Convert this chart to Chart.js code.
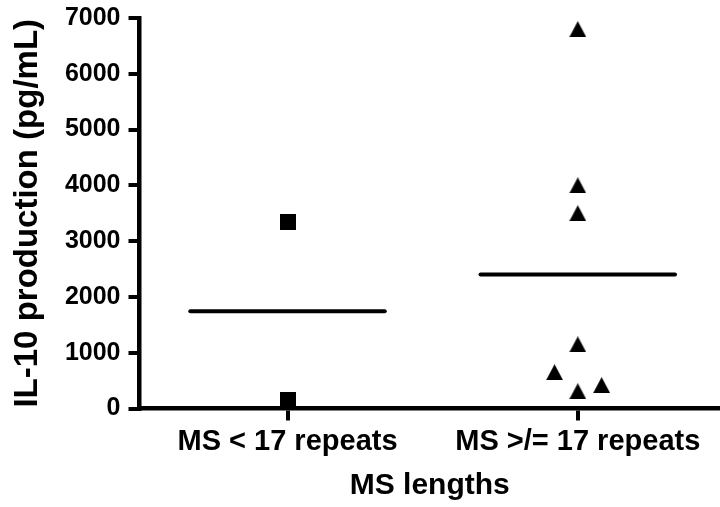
<!DOCTYPE html>
<html>
<head>
<meta charset="utf-8">
<script src="https://cdn.jsdelivr.net/npm/chart.js@4/dist/chart.umd.min.js"></script>
<style>
  html, body { margin: 0; padding: 0; background: #fff; }
</style>
</head>
<body>
<canvas id="myChart" width="720" height="507"></canvas>
<script>
// IL-10 per MS length group, one value per donor
var categories = ["MS < 17 repeats", "MS >/= 17 repeats"];
var shortValues = [3340, 150];
var longValues = [6800, 4000, 3500, 1150, 650, 310, 420];
// small sideways shift so overlapping points stay visible
var longJitter = [0, 0, 0, 0, -0.08, 0, 0.082];
var yTicks = [0, 1000, 2000, 3000, 4000, 5000, 6000, 7000];

var FONT = "'Liberation Sans', Arial, Helvetica, sans-serif";

function mean(arr) {
  var s = 0;
  for (var i = 0; i < arr.length; i++) s += arr[i];
  return s / arr.length;
}

// filled marker drawn once, reused as pointStyle
function marker(shape) {
  var c = document.createElement("canvas");
  c.width = shape == "tri" ? 17 : 16;
  c.height = 16;
  var g = c.getContext("2d");
  g.fillStyle = "#000";
  g.beginPath();
  if (shape == "tri") {
    g.moveTo(8.5, 0);
    g.lineTo(17, 16);
    g.lineTo(0, 16);
    g.closePath();
  } else {
    g.rect(0, 0, 16, 16);
  }
  g.fill();
  return c;
}

function meanLine(pos, m) {
  return {
    type: "line",
    data: [{x: pos - 0.335, y: m}, {x: pos + 0.335, y: m}],
    borderColor: "#000",
    borderWidth: 4,
    borderCapStyle: "round",
    pointRadius: 0,
    clip: false
  };
}

var shortPts = shortValues.map(function(v) { return {x: 1, y: v}; });
var longPts = longValues.map(function(v, i) { return {x: 2 + longJitter[i], y: v}; });

var ctx = "myChart";
var chart = new Chart(ctx, {
  type: "scatter",
  data: {
    datasets: [{
      data: shortPts,
      pointStyle: marker("sq"),
      clip: false
    }, {
      data: longPts,
      pointStyle: marker("tri"),
      clip: false
    },
      meanLine(1, mean(shortValues)),
      meanLine(2, mean(longValues))
    ]
  },
  options: {
    responsive: false,
    animation: false,
    devicePixelRatio: 1,
    layout: { autoPadding: false, padding: { top: 18, right: 0, left: 0, bottom: 0 } },
    plugins: { legend: { display: false }, tooltip: { enabled: false } },
    scales: {
      x: {
        type: "linear",
        min: 0.49,
        max: 2.49,
        afterBuildTicks: function(axis) {
          axis.ticks = [{value: 1}, {value: 2}];
        },
        afterFit: function(axis) {
          axis.height = 98.5;
          axis.paddingLeft = 0;
          axis.paddingRight = 0;
        },
        border: { display: true, color: "#000", width: 4.5 },
        grid: { drawOnChartArea: false, color: "#000", lineWidth: 4, tickLength: 12 },
        ticks: {
          color: "#000",
          padding: 4,
          maxRotation: 0,
          font: { family: FONT, size: 29, weight: "bold" },
          callback: function(v) { return categories[v - 1]; }
        },
        title: {
          display: true,
          text: "MS lengths",
          color: "#000",
          padding: { top: 0, bottom: 3 },
          font: { family: FONT, size: 30, weight: "bold" }
        }
      },
      y: {
        min: 0,
        max: 7000,
        afterBuildTicks: function(axis) {
          axis.ticks = yTicks.map(function(v) { return {value: v}; });
        },
        afterFit: function(axis) {
          axis.width = 139.5;
          axis.paddingTop = 0;
          axis.paddingBottom = 0;
        },
        border: { display: true, color: "#000", width: 4.5 },
        grid: { drawOnChartArea: false, color: "#000", lineWidth: 4, tickLength: 11 },
        ticks: {
          color: "#000",
          padding: 8,
          font: { family: FONT, size: 25, weight: "bold" },
          callback: function(v) { return String(v); }
        },
        title: {
          display: true,
          text: "IL-10 production (pg/mL)",
          color: "#000",
          padding: { top: 8, bottom: 0 },
          font: { family: FONT, size: 33, weight: "bold" }
        }
      }
    }
  }
});
</script>
</body>
</html>
